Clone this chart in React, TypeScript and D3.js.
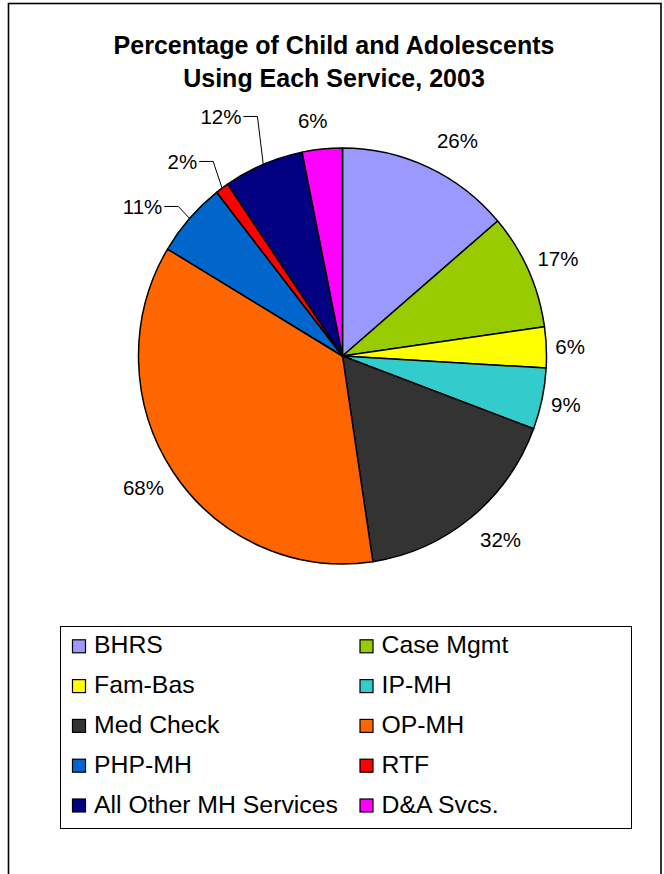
import React from 'react';
import * as d3 from 'd3';

const categories = ['BHRS', 'Case Mgmt', 'Fam-Bas', 'IP-MH', 'Med Check', 'OP-MH', 'PHP-MH', 'RTF', 'All Other MH Services', 'D&A Svcs.'];
const values = [26, 17, 6, 9, 32, 68, 11, 2, 12, 6];
const colors = ['#9999FF', '#99CC00', '#FFFF00', '#33CCCC', '#333333', '#FF6600', '#0066CC', '#FF0000', '#000080', '#FF00FF'];
const titleLines = ['Percentage of Child and Adolescents', 'Using Each Service, 2003'];

const FONT = '"Liberation Sans", Arial, Helvetica, sans-serif';

export default function App() {
  const W = 664, H = 874;
  const cx = 342.5, cy = 356, rx = 204, ry = 208;
  const labelFs = 20.5;

  const pie = d3.pie<number>().sort(null).value((d) => d)(values);
  const arc = d3.arc<d3.PieArcDatum<number>>().innerRadius(0).outerRadius(rx);

  const deg = Math.PI / 180;
  const textW = (s: string) => {
    let w = 0;
    for (const ch of s) w += ch === '%' ? 0.889 : 0.556;
    return w * labelFs;
  };

  type Lab = { text: string; x: number; y: number; anchor: string; leader?: number[][] };
  const labels: Lab[] = [];
  const leaderItems: { i: number; a: number; idealY: number }[] = [];

  pie.forEach((p, i) => {
    const a = (p.startAngle + p.endAngle) / 2;
    const text = `${values[i]}%`;
    if (a > 300 * deg && a < 350 * deg) {
      leaderItems.push({ i, a, idealY: cy - Math.cos(a) * (ry + 18) });
      return;
    }
    const s = Math.sin(a), c = Math.cos(a);
    const sgn = Math.max(-1, Math.min(1, s * 4));
    const w = textW(text);
    const x = cx + s * rx + sgn * (w / 2 + 9);
    const y = cy - c * (ry + 29);
    labels.push({ text, x, y, anchor: 'middle' });
  });

  // stack leader labels upward with a minimum spacing
  leaderItems.sort((u, v) => v.idealY - u.idealY);
  let prevY = Infinity;
  leaderItems.forEach((it) => {
    const y = Math.min(it.idealY, prevY - 45);
    prevY = y;
    const s = Math.sin(it.a), c = Math.cos(it.a);
    const ex = cx + s * rx, ey = cy - c * ry;
    const bx = cx + s * (rx + 15);
    labels.push({
      text: `${values[it.i]}%`,
      x: bx - 16,
      y,
      anchor: 'end',
      leader: [[ex, ey], [bx, y], [bx - 14, y]],
    });
  });

  const legendX = 60.5, legendY = 626.5, legendW = 571, legendH = 202;
  const colX = [72, 359.5];
  const rowBase0 = 653.3, rowStep = 39.8;

  return (
    <svg width={W} height={H} style={{ position: 'absolute', left: 0, top: 0, background: '#fff' }} fontFamily={FONT}>
      <rect x={0} y={0} width={W} height={H} fill="#fff" />
      <rect x={8.5} y={3.5} width={652.5} height={H + 20} fill="#fff" stroke="#000" strokeWidth={1.6} />

      {titleLines.map((t, i) => (
        <text key={i} x={334} y={54.3 + i * 32.4} textAnchor="middle" fontSize={25} fontWeight="bold" fill="#000">
          {t}
        </text>
      ))}

      <g transform={`translate(${cx},${cy}) scale(1,${ry / rx})`}>
        {pie.map((p, i) => (
          <path key={i} d={arc(p) || ''} fill={colors[i]} stroke="#000" strokeWidth={1.5} vectorEffect="non-scaling-stroke" strokeLinejoin="round" />
        ))}
      </g>

      {labels.map((l, i) => (
        <g key={i}>
          {l.leader && (
            <polyline points={l.leader.map((p) => p.join(',')).join(' ')} fill="none" stroke="#000" strokeWidth={1} />
          )}
          <text x={l.x} y={l.y} dy="0.36em" textAnchor={l.anchor as any} fontSize={labelFs} fill="#000">
            {l.text}
          </text>
        </g>
      ))}

      <rect x={legendX} y={legendY} width={legendW} height={legendH} fill="#fff" stroke="#000" strokeWidth={1} />
      {categories.map((c, i) => {
        const col = i % 2, row = Math.floor(i / 2);
        const base = rowBase0 + row * rowStep;
        return (
          <g key={c}>
            <rect x={colX[col] + 0.5} y={base - 13.5} width={13} height={13} fill={colors[i]} stroke="#000" strokeWidth={1.2} />
            <text x={colX[col] + 22} y={base} fontSize={24.8} fill="#000">
              {c}
            </text>
          </g>
        );
      })}
    </svg>
  );
}
